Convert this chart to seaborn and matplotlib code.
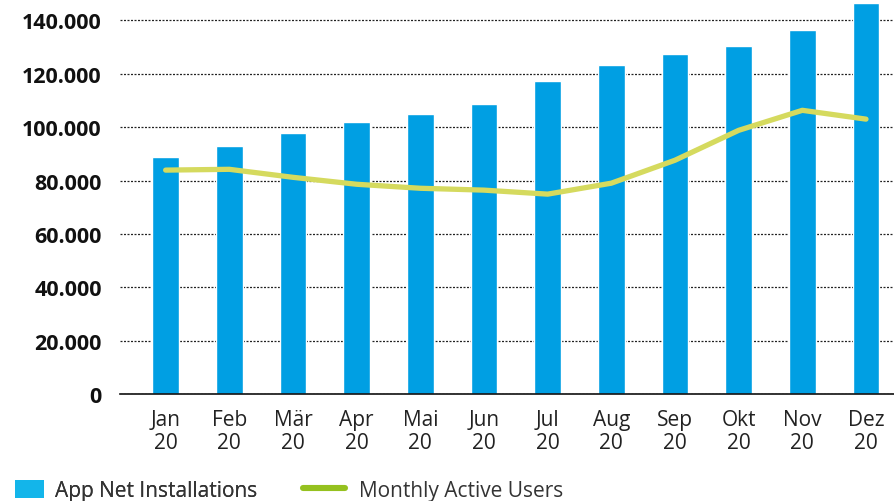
import matplotlib
matplotlib.use("Agg")
import matplotlib.pyplot as plt
import matplotlib.ticker as mticker
from matplotlib.patches import Patch
from matplotlib.lines import Line2D
import pandas as pd
import seaborn as sns

months = ["Jan\n20", "Feb\n20", "Mär\n20", "Apr\n20", "Mai\n20", "Jun\n20",
          "Jul\n20", "Aug\n20", "Sep\n20", "Okt\n20", "Nov\n20", "Dez\n20"]
installations = [88700, 92800, 97700, 101800, 104800, 108600,
                 117200, 123200, 127300, 130300, 136300, 146400]
active_users = [83900, 84200, 81200, 78600, 77100, 76400,
                74900, 79000, 87600, 98800, 106300, 103000]

df = pd.DataFrame({"Monat": months, "Installs": installations, "MAU": active_users})

sns.set_style("white")
plt.rcParams["font.family"] = ["Open Sans", "DejaVu Sans"]

fig = plt.figure(figsize=(8.94, 5.02), dpi=100)
ax = fig.add_axes([0.134, 0.213, 0.866, 0.787])

sns.barplot(data=df, x="Monat", y="Installs", color="#009FE3", width=0.42,
            saturation=1, ax=ax, zorder=2)
sns.lineplot(data=df, x="Monat", y="MAU", sort=False, color="#D5DA5E",
             linewidth=3.8, ax=ax, zorder=3)

ax.set_xlim(-0.72, 11.44)
ax.set_ylim(0, 148000)
ax.set_yticks(range(0, 140001, 20000))
ax.yaxis.set_major_formatter(mticker.FuncFormatter(lambda v, p: f"{int(v):,}".replace(",", ".")))
ax.grid(axis="y", color="#222222", linestyle=(0, (1.6, 1.2)), linewidth=0.9, zorder=0)
ax.set_axisbelow(True)
ax.set_xlabel("")
ax.set_ylabel("")
for s in ["top", "right", "left"]:
    ax.spines[s].set_visible(False)
ax.spines["bottom"].set_color("#111111")
ax.spines["bottom"].set_linewidth(1.2)
ax.tick_params(axis="y", length=0, pad=13, labelsize=15.5, labelcolor="#111111")
ax.tick_params(axis="x", length=0, pad=11, labelsize=15, labelcolor="#222222")
for t in ax.get_yticklabels():
    t.set_fontweight("bold")
for t in ax.get_xticklabels():
    t.set_linespacing(1.1)

leg1 = fig.legend([Patch(facecolor="#13B5EA", edgecolor="none")], ["App Net Installations"],
                  loc="lower left", bbox_to_anchor=(15 / 894, 0.0), frameon=False,
                  borderpad=0, borderaxespad=0, fontsize=15, labelcolor="#333333",
                  handlelength=1.4, handleheight=0.95, handletextpad=0.5)
fig.add_artist(leg1)
fig.legend([Line2D([0], [0], color="#95C11F", linewidth=4.4, solid_capstyle="round")],
           ["Monthly Active Users"], loc="lower left", bbox_to_anchor=(303 / 894, 0.0),
           frameon=False, borderpad=0, borderaxespad=0, fontsize=15, labelcolor="#333333",
           handlelength=2.0, handleheight=0.95, handletextpad=0.7)

fig.savefig("out.png", dpi=100)
